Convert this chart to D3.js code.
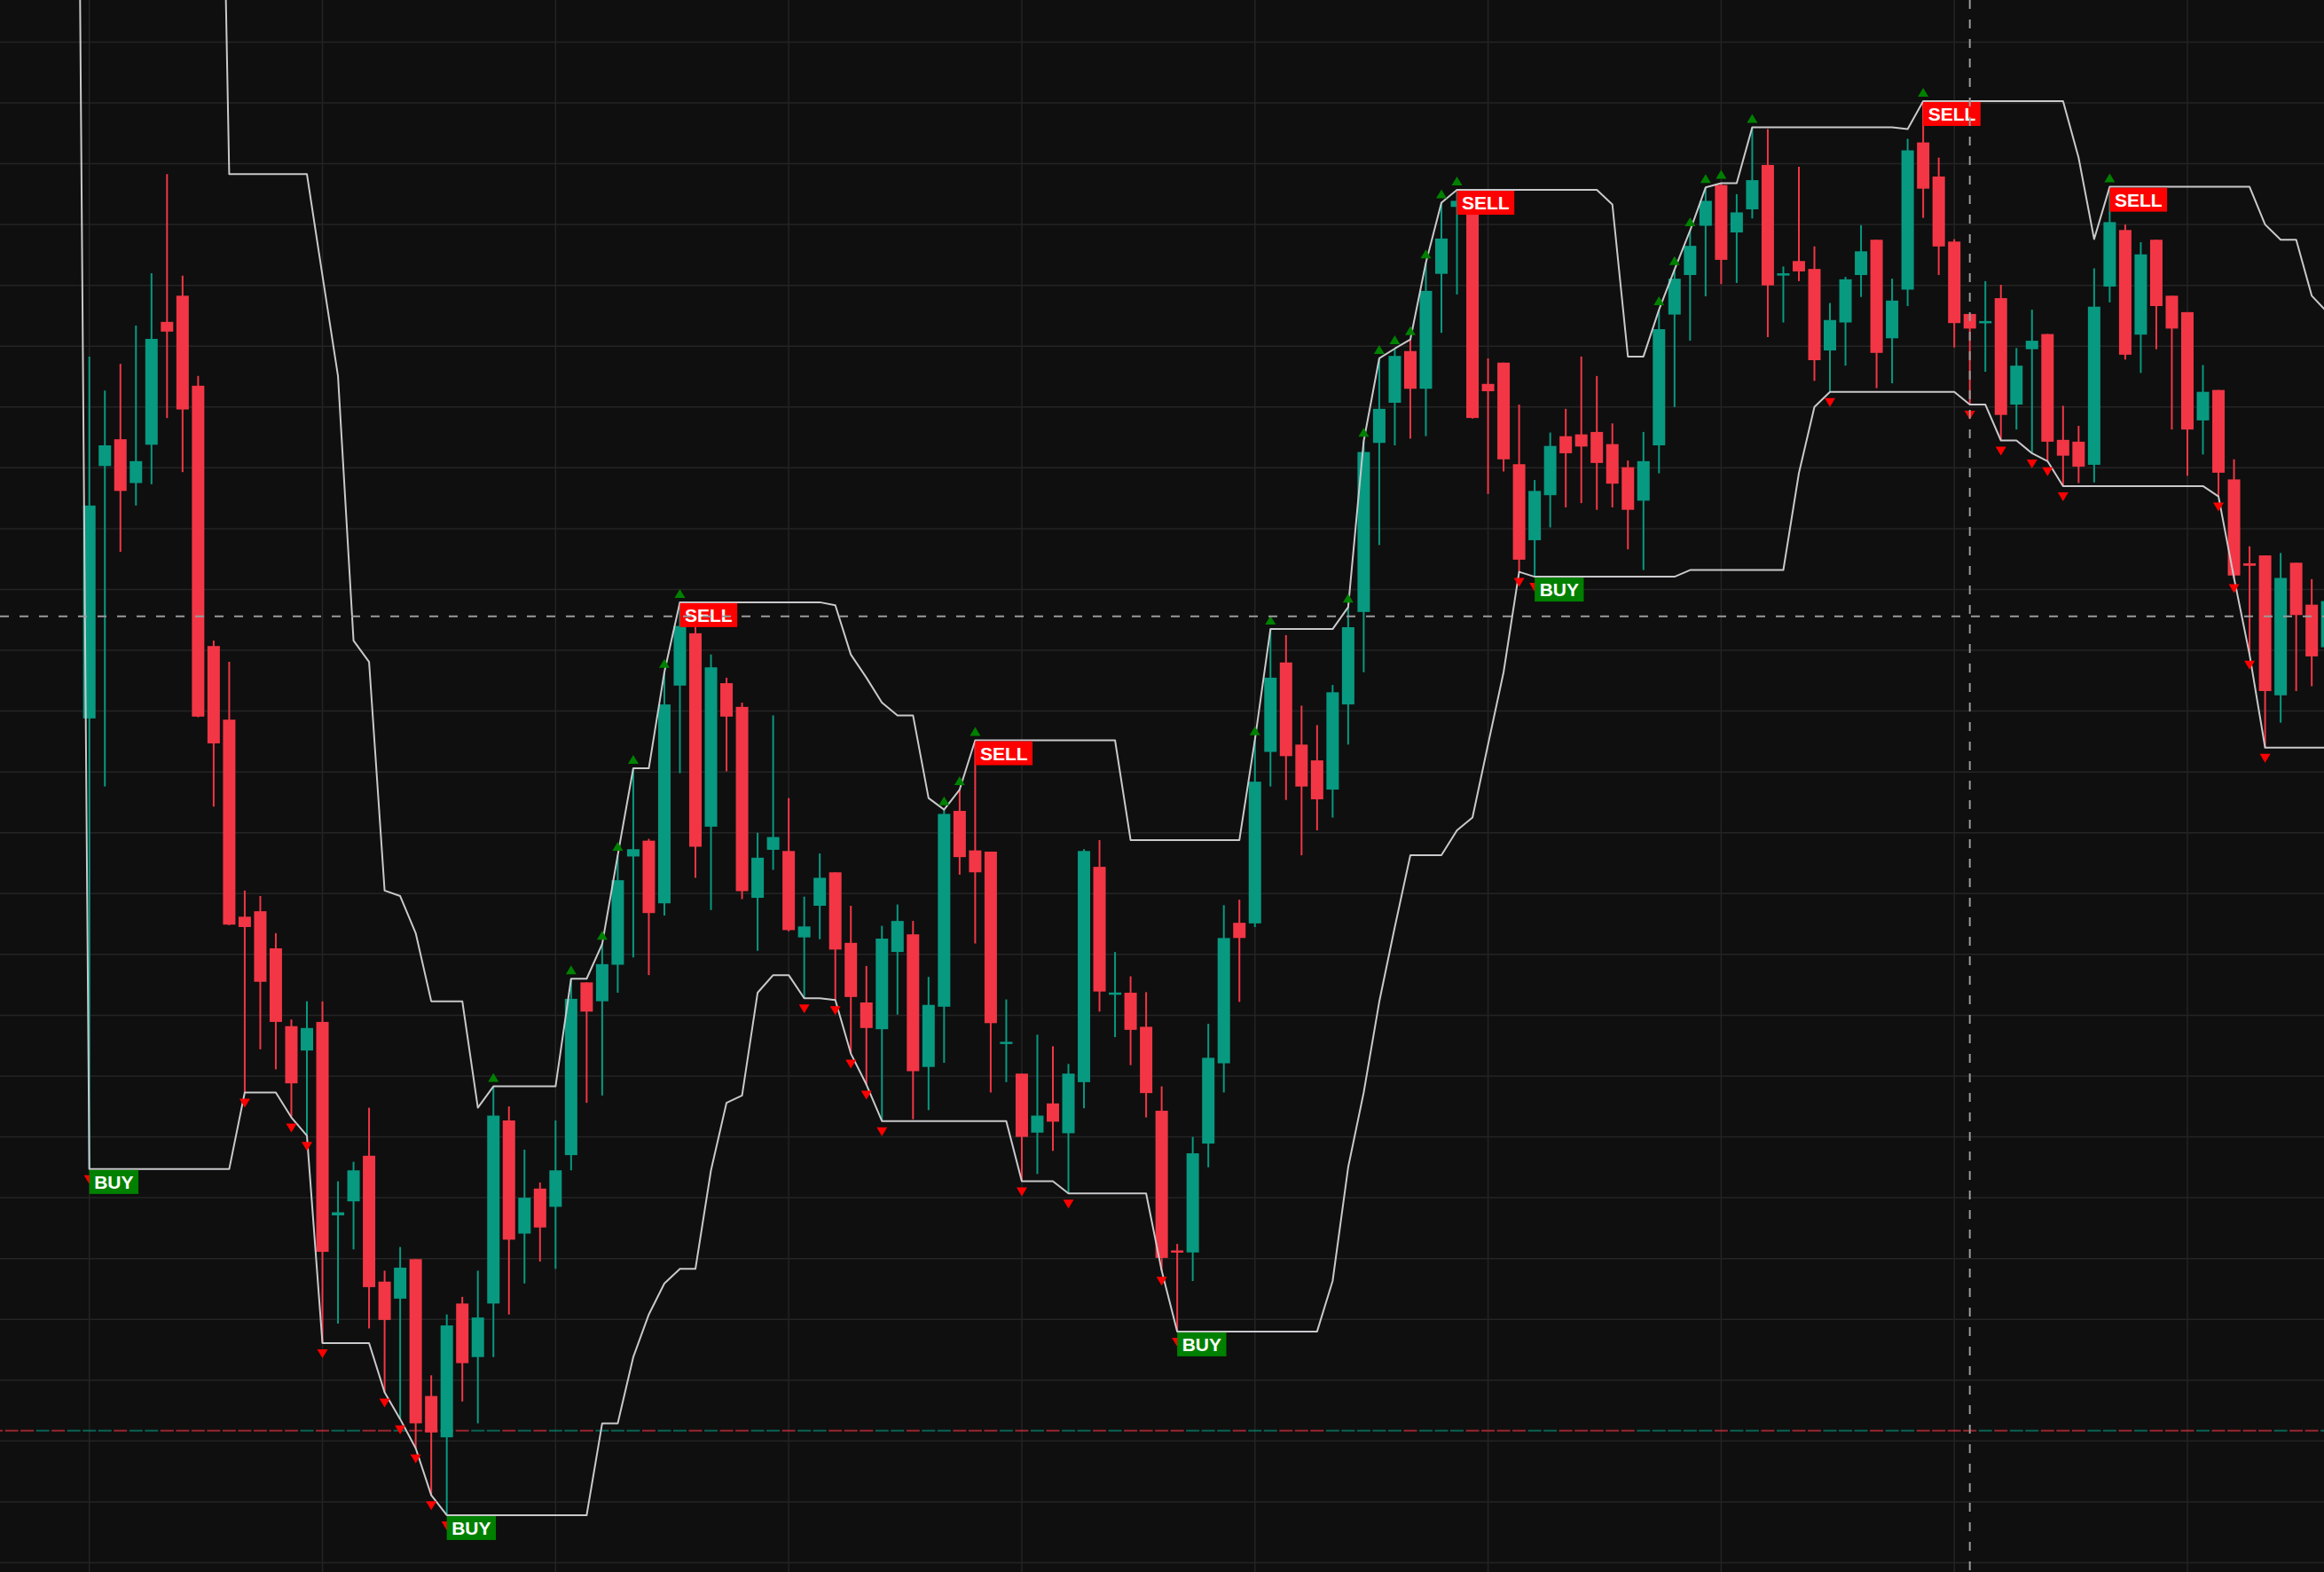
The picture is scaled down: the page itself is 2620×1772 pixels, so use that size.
<!DOCTYPE html>
<html><head><meta charset="utf-8">
<script src="https://cdn.jsdelivr.net/npm/d3@7"></script>
<style>html,body{margin:0;padding:0;background:#0f0f0f;overflow:hidden}svg{display:block}</style>
</head><body><svg id="c" width="2620" height="1772"></svg>
<script>
// ---------- DATA (bar index 0..144) ----------
const opens=[178.8,220.3,224.7,217.5,223.8,244.0,248.3,233.5,190.7,178.6,
146.2,147.1,141.0,128.2,124.2,128.9,97.1,99.4,106.9,86.2,
83.4,89.9,67.4,60.6,82.6,73.8,82.6,112.7,94.1,101.5,
98.5,107.0,135.4,132.3,138.3,156.1,158.7,148.4,184.2,192.8,
161.0,184.6,180.7,149.3,157.2,157.0,142.8,148.0,153.5,141.9,
132.1,127.7,140.4,143.3,121.5,131.4,163.6,157.1,156.9,125.3,
120.4,110.7,115.5,110.6,119.0,154.4,133.4,133.7,128.1,114.3,
91.3,91.0,108.9,122.1,145.2,145.1,173.3,188.0,174.5,171.9,
167.1,181.1,196.3,224.1,230.7,239.2,233.0,251.9,262.9,262.7,
233.8,237.3,220.6,208.1,215.5,225.2,225.5,225.9,223.9,220.1,
214.6,223.7,245.2,251.7,259.8,266.5,258.7,262.5,269.8,251.7,
254.0,252.7,239.3,243.9,251.7,257.5,241.3,249.3,273.5,267.9,
257.2,245.3,243.8,247.9,230.4,239.5,242.0,224.6,224.3,220.5,
249.8,259.1,241.9,257.5,248.3,245.6,227.8,232.8,218.1,204.3,
205.6,182.6,204.4,197.5,190.5];
const highs=[238.3,232.7,237.1,243.4,252.0,268.3,251.6,235.1,191.6,188.1,
150.5,149.6,143.5,129.3,132.3,132.3,102.7,105.9,114.8,88.0,
91.9,89.9,70.8,80.8,83.7,88.0,118.3,115.0,107.9,102.5,
112.7,136.0,135.4,141.7,156.3,170.6,159.0,186.4,197.9,197.4,
189.3,185.5,181.4,160.0,179.3,165.7,149.5,156.6,153.5,148.0,
138.1,144.7,148.2,145.5,136.3,163.8,167.1,175.2,156.9,132.6,
120.4,126.8,124.9,122.0,157.3,158.8,140.4,136.4,133.8,118.3,
92.4,110.0,128.6,148.1,149.0,175.3,193.5,192.5,180.9,177.7,
184.3,197.1,224.4,238.0,239.6,241.1,253.7,263.6,265.7,263.3,
238.0,237.3,230.4,218.0,225.8,229.7,238.3,235.1,227.3,221.2,
225.9,246.0,252.6,259.0,266.1,266.8,265.0,276.0,275.7,253.1,
269.5,256.4,247.1,251.4,259.9,257.5,251.1,274.1,280.3,271.0,
257.6,245.3,250.7,250.1,239.7,246.0,242.0,230.2,226.9,252.8,
266.2,260.0,257.1,257.5,248.3,245.6,236.9,232.8,221.4,207.1,
205.6,206.0,204.4,201.7,203.1];
const lows=[104.7,167.6,206.2,213.8,217.3,228.2,219.3,179.0,164.3,144.8,
117.3,124.4,121.1,113.2,110.2,76.1,79.3,91.5,78.5,68.0,
63.6,58.8,51.1,47.8,66.5,62.9,73.8,80.8,85.9,89.5,
88.3,104.5,115.6,116.8,133.7,139.5,136.6,146.4,169.8,152.6,
147.3,170.1,149.1,140.6,153.9,143.8,132.8,142.5,132.5,123.7,
118.6,112.6,130.1,112.9,114.4,122.2,153.1,141.8,117.3,119.0,
102.7,103.9,107.7,100.7,114.7,130.6,126.4,121.8,113.2,88.0,
78.0,86.3,105.0,117.3,132.2,144.5,167.6,165.4,156.3,160.4,
162.5,174.5,186.4,207.3,223.7,224.8,225.2,242.2,248.5,228.1,
215.7,219.4,202.9,202.1,210.2,213.5,214.2,213.1,213.5,206.6,
203.2,219.1,230.0,240.9,248.2,250.2,250.4,261.0,241.5,243.9,
250.7,234.3,232.5,236.8,248.1,233.1,233.9,246.6,261.1,251.7,
239.8,230.4,235.8,224.5,226.3,222.4,221.1,217.0,217.5,217.6,
247.2,237.8,235.6,239.5,226.3,218.7,222.2,215.3,201.9,189.3,
174.0,178.1,183.3,184.1,188.5];
const closes=[213.8,223.7,216.2,221.1,241.2,242.4,229.6,179.1,174.7,144.9,
144.5,135.5,128.9,118.8,127.9,91.1,97.6,104.5,85.3,79.9,
88.5,62.9,61.4,79.0,72.8,80.3,113.5,93.1,100.0,95.1,
104.5,132.7,130.6,138.4,152.2,157.3,146.8,181.1,194.0,157.7,
187.2,179.1,150.4,155.9,159.3,144.0,144.6,152.6,140.8,133.0,
127.9,142.6,145.5,120.8,131.7,163.1,156.0,153.5,128.7,125.6,
110.0,113.5,112.5,120.4,157.0,133.9,133.7,127.6,117.2,90.1,
91.0,107.3,123.0,142.7,142.7,168.4,185.5,172.6,167.6,165.5,
183.1,193.8,222.6,229.7,238.4,233.0,249.1,257.7,263.9,228.2,
232.6,221.4,204.9,216.2,223.6,222.4,223.5,220.8,217.4,213.1,
221.1,242.8,251.1,256.5,263.9,254.2,262.0,267.3,250.0,251.9,
252.3,237.7,244.3,251.0,255.6,238.9,247.5,272.2,265.9,256.4,
243.8,242.9,244.1,228.7,236.8,240.9,224.3,222.0,220.2,246.5,
260.4,238.6,255.1,246.6,242.9,226.3,232.5,219.2,202.3,203.9,
183.3,201.9,195.8,189.0,198.1];

// channel lines, values for bar index -1..144
const bandStart=-1;
const upperBand=[402.5,402.5,402.5,402.5,402.5,402.5,402.5,402.5,402.5,402.5,
268.3,268.3,268.3,268.3,268.3,268.3,
251.6,235.1,191.6,188.1,150.5, 149.6,143.5,132.3,132.3,132.3,
114.8,118.3,118.3,118.3,118.3, 118.3,136.0,136.0,141.7,156.3,
170.6,170.6,186.4,197.9,197.9, 197.9,197.9,197.9,197.9,197.9,
197.9,197.9,197.9,197.4,189.3, 185.5,181.4,179.3,179.3,165.7,
163.8,167.1,175.2,175.2,175.2, 175.2,175.2,175.2,175.2,175.2,
175.2,175.2,158.8,158.8,158.8, 158.8,158.8,158.8,158.8,158.8,
175.3,193.5,193.5,193.5,193.5, 193.5,197.1,224.4,238.0,239.6,
241.1,253.7,263.6,265.7,265.7, 265.7,265.7,265.7,265.7,265.7,
265.7,265.7,265.7,263.3,238.3, 238.3,246.0,252.6,259.0,266.1,
266.8,266.8,276.0,276.0,276.0, 276.0,276.0,276.0,276.0,276.0,
276.0,276.0,275.7,280.3,280.3, 280.3,280.3,280.3,280.3,280.3,
280.3,280.3,280.3,271.0,257.6, 266.2,266.2,266.2,266.2,266.2,
266.2,266.2,266.2,266.2,266.2, 260.0,257.5,257.5,248.3,245.6];
const lowerBand=[428.0,
104.7,104.7,104.7,104.7,104.7, 104.7,104.7,104.7,104.7,104.7,
117.3,117.3,117.3,113.2,110.2, 76.1,76.1,76.1,76.1,68.0,
63.6,58.8,51.1,47.8,47.8, 47.8,47.8,47.8,47.8,47.8,
47.8,47.8,47.8,62.9,62.9, 73.8,80.8,85.9,88.3,88.3,
104.5,115.6,116.8,133.7,136.6, 136.6,132.8,132.8,132.5,123.7,
118.6,112.6,112.6,112.6,112.6, 112.6,112.6,112.6,112.6,112.6,
102.7,102.7,102.7,100.7,100.7, 100.7,100.7,100.7,100.7,88.0,
78.0,78.0,78.0,78.0,78.0, 78.0,78.0,78.0,78.0,78.0,
86.3,105.0,117.3,132.2,144.5, 156.3,156.3,156.3,160.4,162.5,
174.5,186.4,202.9,202.1,202.1, 202.1,202.1,202.1,202.1,202.1,
202.1,202.1,202.1,203.2,203.2, 203.2,203.2,203.2,203.2,203.2,
219.1,230.0,232.5,232.5,232.5, 232.5,232.5,232.5,232.5,232.5,
232.5,230.4,230.4,224.5,224.5, 222.4,221.1,217.0,217.0,217.0,
217.0,217.0,217.0,217.0,217.0, 217.0,217.0,215.3,201.9,189.3,
174.0,174.0,174.0,174.0,174.0];

// signals
const upMarks=[26,31,33,34,35,37,38,55,56,57,75,76,81,82,83,84,85,86,87,88,101,102,103,104,105,107,118,130];
const downMarks=[0,10,13,14,15,19,20,21,22,23,46,48,49,50,51,60,63,69,70,92,93,112,121,123,125,126,127,137,138,139,140];
const buyAt=[0,23,70,93];
const sellAt=[38,57,88,118,130];

// per-bar coloured level line (bars -6..-1 have no candle drawn)
const levelPrice=61.7;
const preBarDirs=[-1,-1,-1,1,-1,1];
const preBarStart=-6;

// crosshair
const crossIndex=121, crossPrice=195.6;

// grid
const gridPrices=d3.range(40,300,10);
const gridBars=d3.range(0,145,15);

// ---------- STYLE ----------
const W=2620,H=1772;
const UP='#089981', DN='#f23645';
const BG='#0f0f0f', GRID='#242424';

const svg=d3.select('#c');
const x=d3.scaleLinear().domain([-5.748,143.79]).range([0,W]);
const y=d3.scaleLinear().domain([38.46,296.92]).range([H,0]);

svg.append('rect').attr('width',W).attr('height',H).attr('fill',BG);

// grid
const grid=svg.append('g');
grid.selectAll('line.h').data(gridPrices).join('line').attr('class','h')
  .attr('x1',0).attr('x2',W).attr('y1',d=>y(d)).attr('y2',d=>y(d))
  .attr('stroke',GRID).attr('stroke-width',1.5);
grid.selectAll('line.v').data(gridBars).join('line').attr('class','v')
  .attr('y1',0).attr('y2',H).attr('x1',d=>x(d)).attr('x2',d=>x(d))
  .attr('stroke',GRID).attr('stroke-width',1.5);

// level line segments
const levelBars=[];
preBarDirs.forEach((d,k)=>levelBars.push({i:preBarStart+k,up:d>0}));
opens.forEach((o,i)=>levelBars.push({i,up:closes[i]>=o}));
svg.append('g').selectAll('line').data(levelBars).join('line')
  .attr('x1',d=>x(d.i)-7.5).attr('x2',d=>x(d.i)+7.5)
  .attr('y1',y(levelPrice)).attr('y2',y(levelPrice))
  .attr('stroke',d=>d.up?UP:DN).attr('stroke-opacity',0.62).attr('stroke-width',2);

// candles
const idx=d3.range(opens.length);
const cg=svg.append('g');
const col=i=>closes[i]>=opens[i]?UP:DN;
cg.selectAll('line').data(idx).join('line')
  .attr('x1',i=>x(i)).attr('x2',i=>x(i))
  .attr('y1',i=>y(highs[i])).attr('y2',i=>y(lows[i]))
  .attr('stroke',col).attr('stroke-width',2);
const bodyW=14;
cg.selectAll('rect').data(idx).join('rect')
  .attr('x',i=>x(i)-bodyW/2).attr('width',bodyW)
  .attr('y',i=>{const t=y(Math.max(opens[i],closes[i])),b=y(Math.min(opens[i],closes[i]));return (b-t<2.5)?(t+b)/2-1.25:t;})
  .attr('height',i=>Math.max(2.5,Math.abs(y(opens[i])-y(closes[i]))))
  .attr('fill',col);

// channel lines
const line=d3.line().x(d=>x(d[0])).y(d=>y(d[1]));
[upperBand,lowerBand].forEach(arr=>{
  svg.append('path').datum(arr.map((v,k)=>[k+bandStart,v]))
    .attr('d',line).attr('fill','none').attr('stroke','#c9c9cc').attr('stroke-width',2)
    .attr('stroke-linejoin','round');
});

// markers
const mg=svg.append('g');
mg.selectAll('path.up').data(upMarks).join('path').attr('class','up')
  .attr('d',i=>{const cx=x(i),b=y(highs[i])-5;return `M${cx-6},${b}L${cx+6},${b}L${cx},${b-10}Z`;})
  .attr('fill','#008000');
mg.selectAll('path.dn').data(downMarks).join('path').attr('class','dn')
  .attr('d',i=>{const cx=x(i),t=y(lows[i])+7;return `M${cx-6},${t}L${cx+6},${t}L${cx},${t+10}Z`;})
  .attr('fill','#ff0000');

// labels
function label(i,price,txt,bg){
  const g=svg.append('g').attr('transform',`translate(${x(i)},${y(price)+1})`);
  const r=g.append('rect').attr('height',27).attr('fill',bg);
  const t=g.append('text').attr('x',5.5).attr('y',21).text(txt)
    .attr('fill','#ffffff').attr('font-family','"Liberation Sans",Arial,sans-serif')
    .attr('font-weight','bold').attr('font-size',21);
  r.attr('width',t.node().getComputedTextLength()+11);
}
buyAt.forEach(i=>label(i,lows[i],'BUY','#008000'));
sellAt.forEach(i=>label(i,highs[i],'SELL','#ff0000'));

// crosshair
svg.append('line').attr('x1',0).attr('x2',W).attr('y1',y(crossPrice)).attr('y2',y(crossPrice))
  .attr('stroke','#9a9a9a').attr('stroke-width',2).attr('stroke-dasharray','10,12');
svg.append('line').attr('x1',x(crossIndex)).attr('x2',x(crossIndex)).attr('y1',0).attr('y2',H)
  .attr('stroke','#9a9a9a').attr('stroke-width',2).attr('stroke-dasharray','10,12');
</script></body></html>
